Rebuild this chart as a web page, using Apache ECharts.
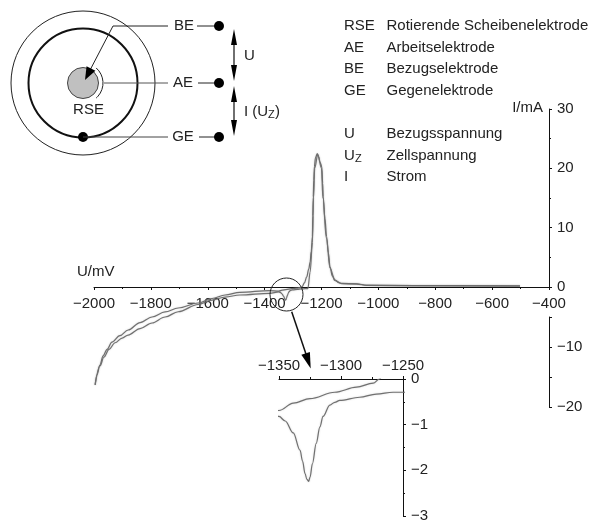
<!DOCTYPE html>
<html><head><meta charset="utf-8">
<style>html,body{margin:0;padding:0;background:#fff}#c{width:590px;height:520px}</style>
<script src="https://cdn.jsdelivr.net/npm/echarts@6/dist/echarts.min.js"></script>
</head><body><div id="c"></div>
<script>
// Sweep towards positive potential (upper branch, through the peak)
var upU = [-1996,-1989.5,-1979,-1968,-1954,-1937,-1909,-1880,-1838,-1796,-1750,-1704,-1634,-1585,-1539,-1487,-1382,-1350,-1338.5,-1325,-1305,-1287.5,-1274,-1269,-1260,-1252,-1245,-1240,-1236,-1232,-1230.5,-1229,-1227,-1225,-1221,-1215,-1210,-1205,-1199,-1196,-1194,-1188,-1182,-1176,-1170,-1162,-1153,-1140,-1129,-1076,-1041,-877,-502];
var upI = [-16.5,-14.8,-13.15,-11.6,-10.5,-9.3,-8.2,-7.25,-6.0,-5.06,-4.2,-3.54,-2.7,-1.94,-1.35,-0.89,-0.6,-0.69,-0.53,-0.43,-0.29,-0.18,-0.09,0,0.7,1.7,3,4.2,6,8.5,12,15.2,18,20.3,21.8,22.5,21.9,21,20.3,17.5,15.2,11.5,8.5,5.8,3.4,1.9,1.2,0.75,0.6,0.55,0.3,0.25,0.2];
// Return sweep (lower branch, with the small dip)
var downU = [-502,-877,-1041,-1076,-1129,-1153,-1170,-1183,-1195,-1200,-1213,-1224,-1228,-1232,-1240,-1248,-1258,-1271.5,-1285,-1301,-1305,-1309,-1314.5,-1317,-1320,-1323,-1325,-1326,-1327.5,-1329,-1331,-1333,-1338.5,-1345,-1350,-1382,-1487,-1539,-1585,-1634,-1704,-1750,-1796,-1838,-1880,-1901,-1926,-1947,-1965,-1979,-1996];
var downI = [0.15,0.2,0.25,0.5,0.55,1.1,3.2,8.3,15,20,22.3,20,15,7.5,2.5,-0.29,-0.29,-0.33,-0.4,-0.47,-0.51,-0.57,-0.82,-1.05,-1.41,-1.85,-2.15,-2.24,-2.2,-2.07,-1.8,-1.56,-1.18,-0.92,-0.82,-1.06,-1.35,-1.69,-2.2,-2.95,-4.17,-5.06,-6.07,-7.0,-8.1,-8.6,-9.4,-10.5,-11.8,-13.3,-16.5];
var mainTicksMin = -2000, mainTicksMax = -400, mainTickStep = 200;
var currentUpper = [0, 30], currentLower = [-20, -5];
var insetU = [-1350, -1250], insetI = [-3, 0];
var legendKeys = ['RSE','AE','BE','GE','U','U','I'];
var legendTexts = ['Rotierende Scheibenelektrode','Arbeitselektrode','Bezugselektrode','Gegenelektrode','Bezugsspannung','Zellspannung','Strom'];

var FONT = '"Liberation Sans", Arial, sans-serif', INK = '#222';
function zip(a,b){return a.map(function(v,i){return [v,b[i]];});}
function minus(v){return String(v).replace('-','\u2212');}
function txt(s,x,y,align,size){return {type:'text',silent:true,z:10,style:{text:s,x:x,y:y,align:align||'left',verticalAlign:'middle',font:(size||15)+'px '+FONT,fill:INK}};}
function ln(x1,y1,x2,y2,w,c){return {type:'line',silent:true,z:5,shape:{x1:x1,y1:y1,x2:x2,y2:y2},style:{stroke:c||'#222',lineWidth:w||1}};}
function circ(x,y,r,fill,stroke,w){return {type:'circle',silent:true,z:5,shape:{cx:x,cy:y,r:r},style:{fill:fill||'none',stroke:stroke||'none',lineWidth:w||1}};}
function head(x1,y1,x2,y2,len,hw){var d=Math.hypot(x2-x1,y2-y1),ux=(x2-x1)/d,uy=(y2-y1)/d,bx=x2-ux*len,by=y2-uy*len;
  return {type:'polygon',silent:true,z:6,shape:{points:[[x2,y2],[bx-uy*hw,by+ux*hw],[bx+uy*hw,by-ux*hw]]},style:{fill:'#000'}};}
var rowsY=[26,48,69,91,134,156,177];
var g=[];
// Schematic
g.push(circ(83,83,72,null,'#222',1),circ(83,83,54.5,null,'#111',2),circ(83,83,15.5,'#c0c0c0','#444',1),circ(83,137,5,'#000'));
g.push({type:'arc',silent:true,z:5,shape:{cx:83,cy:83,r:20,startAngle:-0.85,endAngle:0.85},style:{stroke:'#222',lineWidth:1,fill:'none'}});
g.push(ln(113,26,168,26),ln(197,26,218,26),ln(113,26,88,74),head(113,26,85,80,13,5));
g.push(ln(104,83,168,83,1,'#555'),ln(198,83,218,83));
g.push(ln(83,137,168,137,1,'#444'),ln(199,137,218,137));
g.push(circ(219,26,5,'#000'),circ(219,83,5,'#000'),circ(219,137,5,'#000'));
g.push(ln(234,40,234,68,1.3),head(234,45,234,29,16,3),head(234,65,234,81,16,3));
g.push(ln(234,98,234,122,1.3),head(234,102,234,86,16,3),head(234,120,234,136,16,3));
g.push(txt('BE',184,26,'center'),txt('AE',183,83,'center'),txt('GE',183,137,'center'),txt('RSE',88.5,110,'center'));
g.push(txt('U',244,56),txt('I (U',244,112),txt('Z',268,115,'left',11),txt(')',275,112));
// Legend
legendKeys.forEach(function(k,i){g.push(txt(k,344,rowsY[i]),txt(legendTexts[i],386.5,rowsY[i]));});
g.push(txt('Z',355,159,'left',11));
// Axis names
g.push(txt('U/mV',77,272),txt('I/mA',543,108,'right'));
// Magnifier
g.push(circ(286.5,294.5,16.5,null,'#222',1),ln(291.7,311.7,308,360,1.5,'#111'),head(291.7,311.7,310.7,368.5,16,4.5));

var axisLine={show:true,onZero:false,lineStyle:{color:'#111',width:1}};
var label={color:INK,fontFamily:FONT,fontSize:15};
var tick={show:true,length:3,lineStyle:{color:'#111'}};
var minor={show:true,splitNumber:2,length:2,lineStyle:{color:'#111'}};
var line={type:'line',showSymbol:false,smooth:0.35,smoothMonotone:'x',lineStyle:{color:'#707070',width:1.2,shadowColor:'rgba(0,0,0,0.18)',shadowBlur:2},itemStyle:{color:'#707070'}};
function ser(d,x,y,clip){return Object.assign({},line,{data:d,xAxisIndex:x,yAxisIndex:y,clip:clip});}
var up=zip(upU,upI), down=zip(downU,downI);

var chart=echarts.init(document.getElementById('c'),null,{renderer:'canvas'});
chart.setOption({
  animation:false,backgroundColor:'#fff',
  grid:[
    {left:94,top:109,width:455,height:178,outerBoundsMode:'none'},
    {left:94,top:317,width:455,height:90,outerBoundsMode:'none'},
    {left:279,top:379,width:124,height:137,outerBoundsMode:'none'}
  ],
  xAxis:[
    {gridIndex:0,type:'value',position:'bottom',min:mainTicksMin,max:mainTicksMax,interval:mainTickStep,axisLine:axisLine,axisTick:tick,minorTick:minor,splitLine:{show:false},minorSplitLine:{show:false},axisLabel:Object.assign({},label,{margin:9,formatter:minus,showMinLabel:true,showMaxLabel:true})},
    {gridIndex:1,type:'value',show:false,min:mainTicksMin,max:mainTicksMax},
    {gridIndex:2,type:'value',position:'top',min:insetU[0],max:insetU[1],interval:50,axisLine:axisLine,axisTick:tick,minorTick:minor,splitLine:{show:false},axisLabel:Object.assign({},label,{margin:6,formatter:minus,showMinLabel:true,showMaxLabel:true})}
  ],
  yAxis:[
    {gridIndex:0,type:'value',position:'right',min:currentUpper[0],max:currentUpper[1],interval:10,axisLine:axisLine,axisTick:tick,minorTick:minor,splitLine:{show:false},axisLabel:Object.assign({},label,{margin:8,formatter:minus})},
    {gridIndex:1,type:'value',position:'right',min:currentLower[0],max:currentLower[1],interval:5,axisLine:axisLine,axisTick:tick,splitLine:{show:false},axisLabel:Object.assign({},label,{margin:8,formatter:function(v){return v%10===0?minus(v):'';}})},
    {gridIndex:2,type:'value',position:'right',min:insetI[0],max:insetI[1],interval:1,axisLine:axisLine,axisTick:tick,minorTick:minor,splitLine:{show:false},axisLabel:Object.assign({},label,{margin:8,formatter:minus})}
  ],
  series:[ser(up,0,0,false),ser(down,0,0,false),ser(up,2,2,true),ser(down,2,2,true)],
  graphic:{elements:g}
});
</script></body></html>
